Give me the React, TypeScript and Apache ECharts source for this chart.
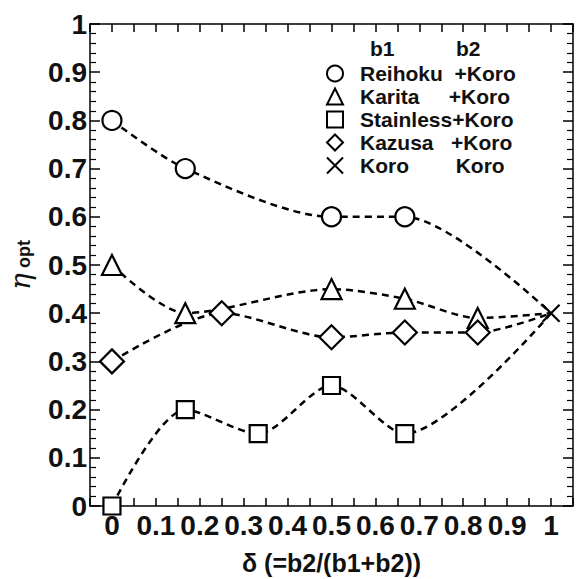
import React, { useEffect, useRef } from "react";
import * as echarts from "echarts";

const reihokuX = [0, 0.167, 0.5, 0.667, 1];
const reihokuY = [0.8, 0.7, 0.6, 0.6, 0.4];
const karitaX = [0, 0.167, 0.5, 0.667, 0.833, 1];
const karitaY = [0.5, 0.4, 0.45, 0.43, 0.39, 0.4];
const stainlessX = [0, 0.167, 0.333, 0.5, 0.667, 1];
const stainlessY = [0, 0.2, 0.15, 0.25, 0.15, 0.4];
const kazusaX = [0, 0.25, 0.5, 0.667, 0.833, 1];
const kazusaY = [0.3, 0.4, 0.35, 0.36, 0.36, 0.4];
const koroX = [1];
const koroY = [0.4];

const seriesNames = [
  "Reihoku  +Koro",
  "Karita     +Koro",
  "Stainless+Koro",
  "Kazusa   +Koro",
  "Koro        Koro",
];
const legendHeader = ["b1", "b2"];
const xAxisTitle = "δ (=b2/(b1+b2))";

const FONT = "Liberation Sans, Arial, sans-serif";
const CROSS = "path://M0,0L20,20M20,0L0,20";

function buildData(xs: number[], ys: number[], lastHidden: boolean) {
  return xs.map((x, i) => {
    const item: any = { value: [x, ys[i]] };
    if (lastHidden && i === xs.length - 1) item.symbol = "none";
    return item;
  });
}

export default function App() {
  const ref = useRef<HTMLDivElement>(null);
  useEffect(() => {
    if (!ref.current) return;
    const chart = echarts.init(ref.current, null, { renderer: "svg" });
    const mk = (name: string, xs: number[], ys: number[], symbol: string, size: number, hideLast: boolean) => ({
      name,
      type: "line",
      data: buildData(xs, ys, hideLast),
      smooth: 0.28,
      symbol,
      symbolSize: size,
      showAllSymbol: true,
      lineStyle: { color: "#000", width: 2.5, type: [7, 5] },
      itemStyle: { color: "#fff", borderColor: "#000", borderWidth: 2.2, opacity: 1 },
      emphasis: { disabled: true },
      z: 3,
    });
    const axisCommon = {
      axisLine: { onZero: false, lineStyle: { color: "#000", width: 1.5 } },
      splitLine: { show: false },
    };
    chart.setOption({
      animation: false,
      textStyle: { fontFamily: FONT },
      grid: { left: 90, right: 4, top: 24, bottom: 73, containLabel: false, outerBoundsMode: "none" },
      xAxis: [
        {
          type: "value",
          min: -0.05,
          max: 1.05,
          interval: 0.05,
          ...axisCommon,
          axisTick: { inside: true, length: 8, lineStyle: { color: "#000", width: 1.5 } },
          axisLabel: {
            margin: 5,
            fontSize: 28,
            fontWeight: "bold",
            color: "#111",
            fontFamily: FONT,
            formatter: (v: number) => {
              const r = Math.round(v * 100);
              if (r < 0 || r > 100 || r % 10 !== 0) return "";
              return String(r / 100);
            },
          },
          name: xAxisTitle,
          nameLocation: "middle",
          nameGap: 44,
          nameTextStyle: { fontSize: 25, fontWeight: "bold", color: "#111", fontFamily: FONT },
        },
        {
          type: "value",
          position: "top",
          min: -0.05,
          max: 1.05,
          interval: 0.05,
          ...axisCommon,
          axisTick: { inside: true, length: 8, lineStyle: { color: "#000", width: 1.5 } },
          axisLabel: { show: false },
        },
      ],
      yAxis: [
        {
          type: "value",
          min: 0,
          max: 1,
          interval: 0.1,
          ...axisCommon,
          axisTick: { inside: true, length: 10, lineStyle: { color: "#000", width: 1.5 } },
          minorTick: { show: true, splitNumber: 5, length: 6, lineStyle: { color: "#000", width: 1.2 } },
          axisLabel: { margin: 3, fontSize: 28, fontWeight: "bold", color: "#111", fontFamily: FONT },
          name: "{a|η}{b| opt}",
          nameLocation: "middle",
          nameRotate: 90,
          nameGap: 56,
          nameTextStyle: {
            rich: {
              a: { fontSize: 28, fontStyle: "italic", fontFamily: "DejaVu Serif, serif", color: "#111" },
              b: { fontSize: 18, fontWeight: "bold", fontFamily: FONT, color: "#111", padding: [8, 0, 0, 0] },
            },
          },
        },
        {
          type: "value",
          position: "right",
          min: 0,
          max: 1,
          interval: 0.1,
          ...axisCommon,
          axisTick: { inside: true, length: 10, lineStyle: { color: "#000", width: 1.5 } },
          minorTick: { show: true, splitNumber: 5, length: 6, lineStyle: { color: "#000", width: 1.2 } },
          axisLabel: { show: false },
        },
      ],
      legend: {
        orient: "vertical",
        left: 314,
        top: 58,
        itemWidth: 32,
        itemHeight: 20,
        itemGap: 2,
        selectedMode: false,
        data: seriesNames,
        lineStyle: { width: 0, opacity: 0 },
        textStyle: { fontSize: 21, fontWeight: "bold", color: "#111", fontFamily: FONT, padding: [0, 0, 0, 4] },
      },
      graphic: [
        { type: "text", left: 370, top: 38, style: { text: legendHeader[0], fontSize: 21, fontWeight: "bold", fill: "#111", fontFamily: FONT } },
        { type: "text", left: 456, top: 38, style: { text: legendHeader[1], fontSize: 21, fontWeight: "bold", fill: "#111", fontFamily: FONT } },
      ],
      series: [
        mk(seriesNames[0], reihokuX, reihokuY, "circle", 19, true),
        mk(seriesNames[1], karitaX, karitaY, "triangle", 20, true),
        mk(seriesNames[2], stainlessX, stainlessY, "rect", 17, true),
        mk(seriesNames[3], kazusaX, kazusaY, "diamond", 24, true),
        { ...mk(seriesNames[4], koroX, koroY, CROSS, 17, false), z: 4 },
      ],
    });
    return () => chart.dispose();
  }, []);
  return <div ref={ref} style={{ position: "absolute", left: 0, top: 0, width: 577, height: 579 }} />;
}
